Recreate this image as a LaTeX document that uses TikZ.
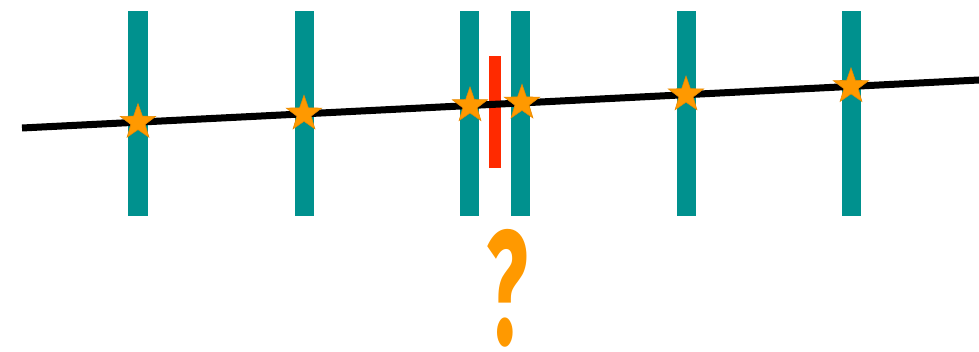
\documentclass[tikz,border=0pt]{standalone}
\usepackage{fontspec}
\newfontfamily\qfont{Fira Sans}
\usepackage{xcolor}
\definecolor{barteal}{HTML}{00918E}
\definecolor{starorange}{HTML}{FF9900}
\definecolor{stardark}{HTML}{E88A00}
\definecolor{markred}{HTML}{FF2A00}
\usepackage{tikz}
\usetikzlibrary{shapes.geometric,calc}
\tikzset{
  tealbar/.style={
    fill=barteal, draw=none,
    minimum width=0.475cm, minimum height=5.1cm, inner sep=0pt
  },
  redbar/.style={
    fill=markred, draw=none,
    minimum width=0.3cm, minimum height=2.8cm, inner sep=0pt
  },
  fitline/.style={draw=black, line width=0.175cm},
  hitstar/.style={
    star, star points=5, star point ratio=2.5,
    fill=starorange, draw=stardark, line width=0.4pt,
    minimum size=0.93cm, inner sep=0pt
  },
  qmark/.style={
    text=starorange, inner sep=0pt,
    font=\qfont\fontsize{112}{112}\selectfont\bfseries
  }
}

\begin{document}
\begin{tikzpicture}[x=0.025cm, y=-0.025cm]
  \useasboundingbox (0,0) rectangle (979,352);

  % vertical bars
  \foreach \x/\n in {138/1,304/2,469/3,520/4,686/5,851/6}
    \node[tealbar] (bar\n) at (\x,113.5) {};

  \node[redbar] (gap) at (495,112) {};

  % the fitted line
  \coordinate (lstart) at (22,128);
  \coordinate (lend)   at (979,80);
  \draw[fitline] (lstart) -- (lend);

  % crossings
  \foreach \x/\n in {138/1,304/2,470/3,522/4,686/5,851/6}
    \node[hitstar] (hit\n) at ($(lstart)!{(\x-22)/957}!(lend)$) {};

  \node[qmark] (query) at (507,288) {\scalebox{0.55}[1.03]{?}};
\end{tikzpicture}
\end{document}
